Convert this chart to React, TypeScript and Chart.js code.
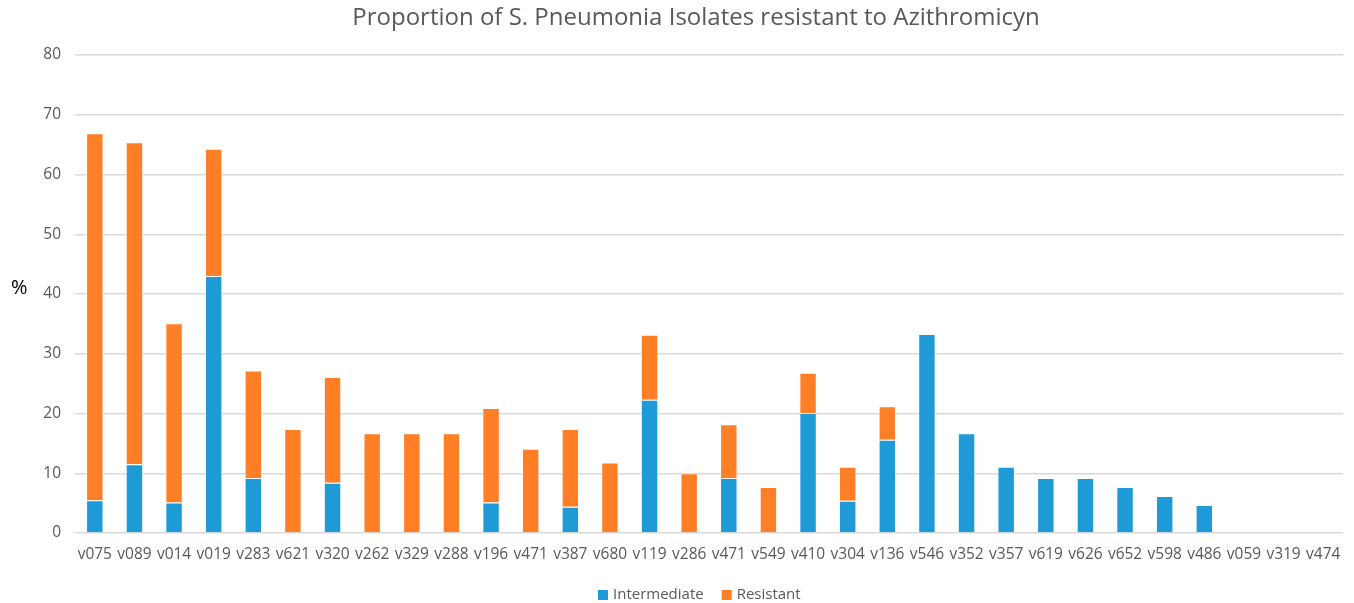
import React, { useEffect, useRef } from "react";
import { Chart, registerables } from "chart.js";

Chart.register(...registerables);

const categories = ["v075","v089","v014","v019","v283","v621","v320","v262","v329","v288","v196","v471","v387","v680","v119","v286","v471","v549","v410","v304","v136","v546","v352","v357","v619","v626","v652","v598","v486","v059","v319","v474"];
const intermediate = [5.5,11.5,5.1,43.0,9.2,0,8.4,0,0,0,5.1,0,4.4,0,22.3,0,9.2,0,20.1,5.4,15.6,33.3,16.7,11.1,9.2,9.2,7.7,6.2,4.7,0,0,0];
const resistant = [61.4,53.9,30.0,21.3,18.0,17.4,17.7,16.7,16.7,16.7,15.8,14.1,13.0,11.8,10.9,10.0,9.0,7.7,6.7,5.7,5.6,0,0,0,0,0,0,0,0,0,0,0];
const yTicks = [0,10,20,30,40,50,60,70,80];

const TITLE = "Proportion of S. Pneumonia Isolates resistant to Azithromicyn";
const FONT = "'Open Sans', 'DejaVu Sans', sans-serif";

const decorations = {
  id: "decorations",
  afterDraw(chart: any) {
    const ctx = chart.ctx;
    const y = chart.scales.y;
    ctx.save();
    // title
    ctx.fillStyle = "#595959";
    ctx.font = `24px ${FONT}`;
    ctx.textAlign = "center";
    ctx.textBaseline = "middle";
    ctx.fillText(TITLE, 696, 18);
    // y axis label
    ctx.fillStyle = "#000000";
    ctx.font = `20px ${FONT}`;
    ctx.textAlign = "left";
    ctx.fillText("%", 11, (y.top + y.bottom) / 2 - 6);
    // legend
    ctx.font = `15px ${FONT}`;
    let x = 598;
    const ly = 594;
    chart.data.datasets.forEach((ds: any) => {
      ctx.fillStyle = ds.backgroundColor;
      ctx.fillRect(x, ly - 4, 10, 10);
      x += 15;
      ctx.fillStyle = "#595959";
      ctx.fillText(ds.label, x, ly + 1);
      x += ctx.measureText(ds.label).width + 18;
    });
    ctx.restore();
  },
};

export default function App() {
  const ref = useRef<HTMLCanvasElement>(null);
  useEffect(() => {
    document.body.style.margin = "0";
    const chart = new Chart(ref.current!, {
      type: "bar",
      data: {
        labels: categories,
        datasets: [
          { label: "Intermediate", data: intermediate, backgroundColor: "#1E9BD7", borderColor: "rgba(255,255,255,0.5)", borderWidth: 1, barPercentage: 0.88, categoryPercentage: 0.5 },
          { label: "Resistant", data: resistant, backgroundColor: "#FF7F27", borderColor: "rgba(255,255,255,0.5)", borderWidth: 1, barPercentage: 0.88, categoryPercentage: 0.5 },
        ],
      },
      options: {
        animation: false,
        responsive: false,
        maintainAspectRatio: false,
        layout: { padding: { left: 0, right: 11, top: 55, bottom: 20 } },
        plugins: {
          title: { display: false },
          legend: { display: false },
          tooltip: { enabled: false },
        },
        scales: {
          x: {
            stacked: true,
            grid: { display: false },
            border: { display: false },
            afterFit(scale: any) { scale.height = 50; },
            ticks: { color: "#595959", font: { family: FONT, size: 15.5 }, maxRotation: 0, autoSkip: false, padding: 4 },
          },
          y: {
            stacked: true,
            min: 0,
            max: 80,
            afterBuildTicks(scale: any) { scale.ticks = yTicks.map((v) => ({ value: v })); },
            afterFit(scale: any) { scale.width = 75; },
            grid: { color: "#d9d9d9", lineWidth: 1.5, drawTicks: false },
            border: { display: false },
            ticks: { color: "#595959", font: { family: FONT, size: 15.5 }, padding: 14 },
          },
        },
      },
      plugins: [decorations],
    });
    return () => chart.destroy();
  }, []);
  return (
    <div style={{ width: 1354, height: 603 }}>
      <canvas ref={ref} width={1354} height={603} style={{ display: "block" }} />
    </div>
  );
}
